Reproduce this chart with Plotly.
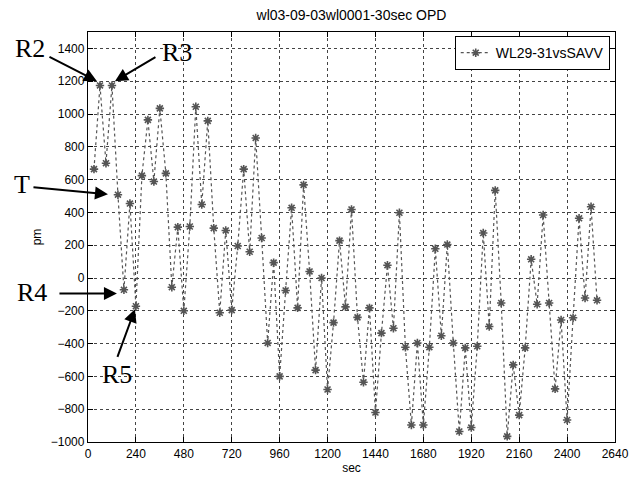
import plotly.graph_objects as go

# Data (OPD samples every 30 s)
sec = [30 * k for k in range(1, 86)]
opd_pm = [
    664, 1174, 700, 1174, 508, -72, 454, -172, 624, 964,
    588, 1034, 638, -56, 310, -200, 314, 1044, 448, 958,
    304, -212, 290, -196, 195, 664, 160, 854, 244, -396,
    94, -600, -76, 428, -182, 568, 40, -562, 0, -680,
    -272, 228, -176, 418, -240, -636, -182, -820, -336, 78,
    -306, 398, -422, -896, -396, -896, -422, 178, -352, 204,
    -396, -936, -426, -912, -416, 274, -296, 534, -152, -966,
    -530, -836, -426, 114, -160, 384, -152, -676, -256, -866,
    -242, 364, -122, 434, -136,
]
x_ticks = list(range(0, 2641, 240))
y_ticks = list(range(-1000, 1401, 200))

series_name = "WL29-31vsSAVV"
title_text = "wl03-09-03wl0001-30sec OPD"

# Callout labels: (text, head_sec, head_pm, tail dx px, tail dy px)
callouts = [
    ("R2", 45, 1200, -49, -25),
    ("R3", 135, 1200, 42, -25),
    ("T", 100, 511, -76, -7),
    ("R4", 145, -95, -59, 0),
    ("R5", 235, -191, -18, 49),
]

fig = go.Figure()
fig.add_trace(go.Scatter(
    x=sec, y=opd_pm, mode="lines+markers", name=series_name,
    line=dict(color="#555555", width=1.2, dash="dot"),
    marker=dict(symbol="asterisk-open", size=7,
                line=dict(width=1.6, color="#111111")),
))

axis_common = dict(
    showline=True, linecolor="black", linewidth=1.3, mirror="ticks",
    ticks="inside", ticklen=5, tickcolor="black",
    showgrid=True, gridcolor="#444444", gridwidth=1, griddash="dot",
    zeroline=False,
    tickfont=dict(family="Liberation Sans, Arial", size=12, color="black"),
)

fig.update_xaxes(range=[0, 2640], tickvals=x_ticks,
                 title=dict(text="sec", standoff=4,
                            font=dict(family="Liberation Sans, Arial", size=12, color="black")),
                 **axis_common)
fig.update_yaxes(range=[-1000, 1500], tickvals=y_ticks,
                 title=dict(text="pm", standoff=6,
                            font=dict(family="Liberation Sans, Arial", size=12, color="black")),
                 **axis_common)

annotations = []
for label, hx, hy, dx, dy in callouts:
    annotations.append(dict(
        x=hx, y=hy, xref="x", yref="y", text="", showarrow=True,
        ax=dx, ay=dy, axref="pixel", ayref="pixel",
        arrowhead=2, arrowsize=1.3, arrowwidth=2, arrowcolor="black",
    ))
# label text positions (pixel offset from arrow tails)
label_offsets = {"R2": (-18, -8), "R3": (20, -4), "T": (-10, -3), "R4": (-26, -1), "R5": (0, 16)}
for label, hx, hy, dx, dy in callouts:
    ox, oy = label_offsets[label]
    annotations.append(dict(
        x=hx, y=hy, xref="x", yref="y", text=label, showarrow=False,
        xshift=dx + ox, yshift=-(dy + oy),
        font=dict(family="Liberation Serif, Times New Roman", size=26, color="black"),
    ))

fig.update_layout(
    width=641, height=485,
    margin=dict(l=88, r=24, t=32, b=36),
    paper_bgcolor="white", plot_bgcolor="white",
    title=dict(text=title_text, x=0.5, xref="paper", y=1 - 15 / 485,
               yref="container", yanchor="middle", xanchor="center",
               font=dict(family="Liberation Sans, Arial", size=14, color="black")),
    showlegend=True,
    legend=dict(x=0.99, y=0.99, xanchor="right", yanchor="top",
                bgcolor="white", bordercolor="black", borderwidth=1,
                itemwidth=30,
                font=dict(family="Liberation Sans, Arial", size=14, color="black")),
    annotations=annotations,
)

fig.write_html("out.html")
